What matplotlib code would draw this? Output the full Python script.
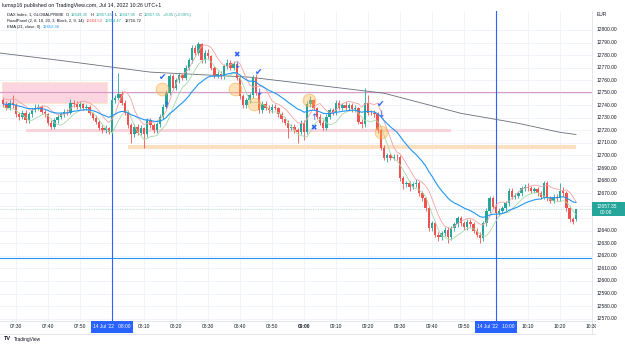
import matplotlib
matplotlib.use('Agg')
import matplotlib.pyplot as plt
from matplotlib.patches import Rectangle
import numpy as np
import pandas as pd

plt.rcParams['font.family'] = ['Liberation Sans', 'DejaVu Sans']

# ---- data (1-minute candles, first bar 07:26) ----
first_bar = '07:26'

opens = [
    12744, 12741, 12738, 12742, 12740, 12733, 12731, 12734, 12728, 12733,
    12736, 12738, 12738.5, 12735, 12733, 12726, 12723, 12728, 12731, 12733,
    12735, 12734, 12742, 12741, 12739, 12741, 12738, 12739, 12734, 12730,
    12727, 12722, 12720, 12722, 12719, 12744, 12746, 12749, 12742, 12734,
    12724, 12717, 12723, 12718, 12722, 12717, 12728, 12724, 12720, 12725,
    12731, 12739, 12750, 12763, 12754, 12760, 12764, 12762, 12770, 12776,
    12786, 12782, 12789, 12776, 12782, 12779, 12770, 12764, 12765, 12763,
    12771, 12774, 12770, 12773, 12762, 12747, 12740, 12744, 12748, 12762,
    12750, 12736, 12741, 12738, 12736, 12739, 12738, 12733, 12729, 12726,
    12722, 12723, 12720, 12719, 12726, 12719, 12741, 12744, 12738, 12731,
    12726, 12722, 12731, 12736, 12734, 12742, 12738, 12740, 12738, 12740,
    12737, 12738, 12727, 12725, 12742, 12734, 12733.5, 12733, 12720, 12706,
    12698, 12700, 12698, 12699, 12698.5, 12682, 12677, 12678, 12675, 12677,
    12678, 12670, 12666, 12658, 12642, 12646, 12637, 12635, 12638, 12641,
    12635, 12642, 12645, 12650, 12646, 12643, 12647, 12645, 12640, 12637,
    12634, 12646, 12656, 12666, 12659, 12654, 12656, 12658, 12662, 12672,
    12667, 12668, 12670, 12674, 12675, 12674, 12672, 12673, 12670, 12667,
    12678, 12666, 12664, 12667, 12666, 12672, 12670, 12658, 12649, 12649.35,
]
highs = [
    12746, 12743, 12744, 12748, 12742, 12735, 12736, 12736, 12735, 12738,
    12741, 12741, 12740, 12737, 12734, 12728, 12730, 12733, 12735, 12737,
    12737, 12745, 12744, 12743, 12743, 12742, 12741, 12740, 12735, 12732,
    12728, 12724, 12724, 12723, 12746, 12748, 12766, 12751, 12744, 12736,
    12726, 12725, 12725, 12724, 12723, 12730, 12730, 12726, 12727, 12733,
    12741, 12752, 12765, 12765, 12762, 12766, 12766, 12772, 12778, 12788,
    12788, 12790.5, 12790, 12784, 12785, 12780, 12771, 12767, 12767, 12773,
    12777, 12776, 12775, 12774, 12763, 12749, 12746, 12750, 12764, 12765,
    12751, 12743, 12743, 12740, 12741, 12741, 12739, 12735, 12731, 12728,
    12725, 12725, 12722, 12728, 12728, 12743, 12747, 12745, 12739, 12733,
    12728, 12733, 12738, 12738, 12744, 12744, 12742, 12743, 12742, 12742,
    12740, 12739, 12729, 12754, 12748, 12736, 12736, 12735, 12722, 12708,
    12702, 12702, 12701, 12701, 12700, 12684, 12680, 12680, 12679, 12681,
    12680, 12672, 12667, 12660, 12648, 12648, 12639, 12640, 12643, 12643,
    12644, 12647, 12652, 12652, 12648, 12649, 12649, 12647, 12642, 12639,
    12648, 12658, 12668, 12668, 12661, 12658, 12660, 12664, 12674, 12674,
    12670, 12672, 12676, 12677, 12678, 12676, 12675, 12675, 12672, 12680,
    12680, 12668, 12669, 12669, 12678, 12675, 12672, 12660, 12651, 12657.45,
]
lows = [
    12739, 12736, 12736, 12738, 12731, 12728, 12729, 12726, 12726, 12731,
    12735, 12736, 12733, 12731, 12724, 12721, 12721, 12726, 12729, 12731,
    12732, 12733, 12739, 12737, 12737, 12736, 12736, 12732, 12728, 12725,
    12720, 12718, 12718, 12717, 12717, 12742, 12744, 12740, 12732, 12722,
    12710, 12715, 12716, 12716, 12706, 12715, 12722, 12718, 12718, 12723,
    12729, 12737, 12748, 12752, 12752, 12758, 12760, 12760, 12768, 12774,
    12780, 12780, 12774, 12774, 12777, 12768, 12762, 12762, 12761, 12761,
    12769, 12768, 12768, 12760, 12745, 12738, 12738, 12742, 12746, 12748,
    12734, 12734, 12736, 12734, 12734, 12736, 12731, 12727, 12724, 12714,
    12720, 12718, 12710, 12717, 12712, 12717, 12739, 12736, 12729, 12724,
    12720, 12720, 12729, 12732, 12732, 12736, 12736, 12736, 12736, 12735,
    12735, 12725, 12722, 12723, 12732, 12732, 12731, 12718, 12704, 12696,
    12695, 12696, 12696, 12696, 12680, 12673, 12675, 12672, 12673, 12675,
    12668, 12664, 12656, 12640, 12640, 12635, 12632, 12633, 12636, 12630.5,
    12633, 12640, 12643, 12644, 12641, 12641, 12643, 12638, 12635, 12630.5,
    12632, 12644, 12654, 12657, 12652, 12652, 12654, 12656, 12660, 12665,
    12665, 12666, 12668, 12672, 12672, 12670, 12670, 12668, 12665, 12665,
    12664, 12662, 12662, 12664, 12664, 12668, 12656, 12647, 12645.5, 12647.95,
]
closes = [
    12741, 12738, 12742, 12740, 12733, 12731, 12734, 12728, 12733, 12736,
    12738, 12738.5, 12735, 12733, 12726, 12723, 12728, 12731, 12733, 12735,
    12734, 12742, 12741, 12739, 12741, 12738, 12739, 12734, 12730, 12727,
    12722, 12720, 12722, 12719, 12744, 12746, 12749, 12742, 12734, 12724,
    12717, 12723, 12718, 12722, 12717, 12728, 12724, 12720, 12725, 12731,
    12739, 12750, 12763, 12754, 12760, 12764, 12762, 12770, 12776, 12786,
    12782, 12789, 12776, 12782, 12779, 12770, 12764, 12765, 12763, 12771,
    12774, 12770, 12773, 12762, 12747, 12740, 12744, 12748, 12762, 12750,
    12736, 12741, 12738, 12736, 12739, 12738, 12733, 12729, 12726, 12722,
    12723, 12720, 12719, 12726, 12719, 12741, 12744, 12738, 12731, 12726,
    12722, 12731, 12736, 12734, 12742, 12738, 12740, 12738, 12740, 12737,
    12738, 12727, 12725, 12742, 12734, 12733.5, 12733, 12720, 12706, 12698,
    12700, 12698, 12699, 12698.5, 12682, 12677, 12678, 12675, 12677, 12678,
    12670, 12666, 12658, 12642, 12646, 12637, 12635, 12638, 12641, 12635,
    12642, 12645, 12650, 12646, 12643, 12647, 12645, 12640, 12637, 12634,
    12646, 12656, 12666, 12659, 12654, 12656, 12658, 12662, 12672, 12667,
    12668, 12670, 12674, 12675, 12674, 12672, 12673, 12670, 12667, 12678,
    12666, 12664, 12667, 12666, 12672, 12670, 12658, 12649, 12647, 12657.35,
]

# slow moving average (third RoadPanel line)
slow_times = ['07:25', '07:43', '08:12', '08:43', '09:25', '09:49', '10:07', '10:20', '10:25']
slow_vals = [12781.6, 12776, 12766.4, 12762.4, 12749.6, 12733.6, 12725.6, 12718.4, 12716.7]

ema_span = 21
band_len = 5

# drawings
zone_span = ('07:26', '07:59')
zone_prices = (12741.6, 12758.4)
pink_line = 12750.4
blue_line = 12618
band1_span = ('07:33', '09:46')
band1_prices = (12718.8, 12721.2)
band2_span = ('08:05', '10:25')
band2_prices = (12704.8, 12708)
vline_times = ['08:00', '10:00']

check_times = ['08:16', '08:46', '09:24']
check_prices = [12762, 12766, 12741]
cross_times = ['08:39', '09:03']
cross_prices = [12780, 12722]
up_times = ['08:17', '09:03']
up_prices = [12740, 12730]
down_times = ['08:39', '08:46', '09:24']
down_prices = [12772, 12750, 12733]
circle_times = ['08:15.5', '08:38.5', '08:44.5', '09:01.5', '09:24']
circle_prices = [12753, 12753, 12741, 12744, 12719]

time_ticks = ['07:30', '07:40', '07:50', '08:00', '08:10', '08:20', '08:30', '08:40', '08:50',
              '09:00', '09:10', '09:20', '09:30', '09:40', '09:50', '10:00', '10:10', '10:20', '10:30']
price_ticks = list(range(12570, 12801, 10))
last_price = 12657.35


def hm(s):
    h, m = s.split(':')
    return int(h) * 60 + float(m)


GREEN = '#26a69a'
RED = '#ef5350'
BLUE = '#2962ff'
TEXT = '#131722'
GRID = '#f0f3fa'

W, H = 625, 344
fig = plt.figure(figsize=(W / 100, H / 100), dpi=100)
fig.patch.set_facecolor('white')

pane_top, pane_bot, pane_right = 11, 321, 592
ax = fig.add_axes([0, 1 - pane_bot / H, pane_right / W, (pane_bot - pane_top) / H])
ax.set_xlim(445, 630)
ax.set_ylim(12568.1, 12815.1)
for s in ax.spines.values():
    s.set_visible(False)
ax.set_xticks([hm(t) for t in time_ticks])
ax.set_yticks(price_ticks)
ax.tick_params(length=0, labelbottom=False, labelleft=False)
ax.grid(True, color=GRID, lw=0.7)
ax.set_axisbelow(True)


def px_x(t):
    # pixel column of a time in minutes
    return pane_right * (t - 445) / (630 - 445)


def px_y(p):
    lo, hi = ax.get_ylim()
    return pane_top + (pane_bot - pane_top) * (hi - p) / (hi - lo)


t = hm(first_bar) + np.arange(len(closes))
o, h, l, c = (np.array(a, dtype=float) for a in (opens, highs, lows, closes))

# zones and drawn lines
ax.add_patch(Rectangle((hm(zone_span[0]) - 0.5, zone_prices[0]), hm(zone_span[1]) - hm(zone_span[0]),
                       zone_prices[1] - zone_prices[0], facecolor='#fbd5df', edgecolor='#fde7c6',
                       lw=0.6, zorder=1))
ax.add_patch(Rectangle((hm(band1_span[0]), band1_prices[0]), hm(band1_span[1]) - hm(band1_span[0]),
                       band1_prices[1] - band1_prices[0], facecolor='#f9d2dc', edgecolor='none', zorder=1))
ax.add_patch(Rectangle((hm(band2_span[0]), band2_prices[0]), hm(band2_span[1]) - hm(band2_span[0]),
                       band2_prices[1] - band2_prices[0], facecolor='#fde0c2', edgecolor='none', zorder=1))
ax.axhline(pink_line, color='#d99bc6', lw=0.8, zorder=2)
ax.axhline(blue_line, color='#2196f3', lw=0.8, zorder=2)
ax.axhline(last_price, color=GREEN, lw=0.5, ls=(0, (1, 1.5)), alpha=0.6, zorder=2)
for vt in vline_times:
    ax.axvline(hm(vt), color=BLUE, lw=0.8, zorder=2)

# indicators
ema = pd.Series(closes).ewm(span=ema_span, adjust=False).mean()
hi_band = pd.Series(highs).rolling(band_len, min_periods=1).mean()
lo_band = pd.Series(lows).rolling(band_len, min_periods=1).mean()
ax.plot([hm(s) for s in slow_times], slow_vals, color='#6a6d78', lw=0.6, zorder=2)
ax.plot(t, hi_band, color='#f5a3a0', lw=0.6, zorder=5)
ax.plot(t, lo_band, color='#a9d8a6', lw=0.6, zorder=5)
ax.plot(t, ema, color='#2196f3', lw=0.8, zorder=5)

# candles
cols = np.where(c >= o, GREEN, RED)
ax.vlines(t, l, h, colors=cols, lw=0.6, zorder=3)
ax.bar(t, np.maximum(np.abs(c - o), 0.4), bottom=np.minimum(o, c), width=0.78,
       color=cols, lw=0, zorder=4)

# signal markers
ax.scatter([hm(s) for s in circle_times], circle_prices, s=85, facecolor=(1.0, 0.72, 0.3, 0.4),
           edgecolor=(0.96, 0.66, 0.25, 0.7), lw=0.5, zorder=6)
for glyph, ts, ps, fs in [('\u2714', check_times, check_prices, 6.5),
                          ('\u2716', cross_times, cross_prices, 5.5),
                          ('\u2191', up_times, up_prices, 6.5),
                          ('\u2193', down_times, down_prices, 6.5)]:
    for ti, pi in zip(ts, ps):
        ax.text(hm(ti), pi, glyph, color=BLUE, fontsize=fs, ha='center', va='center',
                zorder=7, family=['DejaVu Sans'])


# ---- text overlays in pixel coordinates ----
def ftext(x, y, s, **kw):
    return fig.text(x / W, 1 - y / H, s, va='center', **kw)


renderer = fig.canvas.get_renderer()


def chain(x, y, parts, fs):
    for s, col in parts:
        tx = ftext(x, y, s, fontsize=fs, color=col)
        x += tx.get_window_extent(renderer).width + 2.2


ftext(2, 5, 'lumsp16 published on TradingView.com, Jul 14, 2022 10:26 UTC+1', fontsize=3.8, color=TEXT)
chain(7, 15, [('DAX Index, 1, GLOBALPRIME', TEXT), ('O', TEXT), ('12649.35', GREEN), ('H', TEXT),
              ('12657.45', GREEN), ('L', TEXT), ('12647.95', GREEN), ('C', TEXT), ('12657.35', GREEN),
              ('+8.05 (+0.06%)', GREEN)], 3.0)
chain(7, 21, [('RoadPanel (2, 8, 10, 20, 3, Black, 2, 9, 14)', TEXT), ('12664.53', RED),
              ('12654.47', GREEN), ('12716.72', TEXT)], 3.0)
chain(7, 27, [('EMA (21, close, 0)', TEXT), ('12652.38', '#2196f3')], 3.0)

# price scale
ftext(597, 14, 'EUR', fontsize=3.5, color=TEXT)
for p in price_ticks:
    if abs(p - last_price) < 8:
        continue
    ftext(597, px_y(p), f'{p:.2f}', fontsize=3.5, color=TEXT)
yb = px_y(last_price)
fig.patches.append(Rectangle((592 / W, 1 - (yb + 7) / H), 33 / W, 14 / H, transform=fig.transFigure,
                             facecolor=GREEN, edgecolor='none', zorder=8))
ftext(597, yb - 2.5, f'{last_price:.2f}', fontsize=3.5, color='white', zorder=9)
ftext(600, yb + 3.5, '00:08', fontsize=3.5, color='white', zorder=9)

# time scale
for lbl in time_ticks:
    x = px_x(hm(lbl))
    if lbl in vline_times:
        fig.patches.append(Rectangle(((x - 21) / W, 1 - 333 / H), 42 / W, 12 / H,
                                     transform=fig.transFigure, facecolor=BLUE, edgecolor='none', zorder=8))
        ftext(x, 327, "14 Jul '22   " + lbl, fontsize=3.5, color='white', ha='center', zorder=9)
    else:
        ftext(x, 327, lbl, fontsize=3.5, color=TEXT, ha='center',
              fontweight='bold' if lbl == '09:00' else 'normal')

# clip the time scale under the price scale, separators
fig.patches.append(Rectangle((596 / W, 0), 29 / W, 1 - pane_bot / H, transform=fig.transFigure,
                             facecolor='white', edgecolor='none', zorder=7))
fig.lines.append(plt.Line2D([0, 1], [1 - pane_bot / H] * 2, transform=fig.transFigure,
                            color='#e0e3eb', lw=0.6))
fig.lines.append(plt.Line2D([0, 1], [1 - 334 / H] * 2, transform=fig.transFigure,
                            color='#e0e3eb', lw=0.6))
fig.lines.append(plt.Line2D([pane_right / W] * 2, [1 - 334 / H, 1 - pane_top / H],
                            transform=fig.transFigure, color='#e0e3eb', lw=0.6))

# footer logo
ftext(4, 339, 'TV', fontsize=4, color=TEXT, fontweight='bold')
ftext(14, 339, 'TradingView', fontsize=3.5, color=TEXT)

fig.savefig('out.png', dpi=100, facecolor='white')
